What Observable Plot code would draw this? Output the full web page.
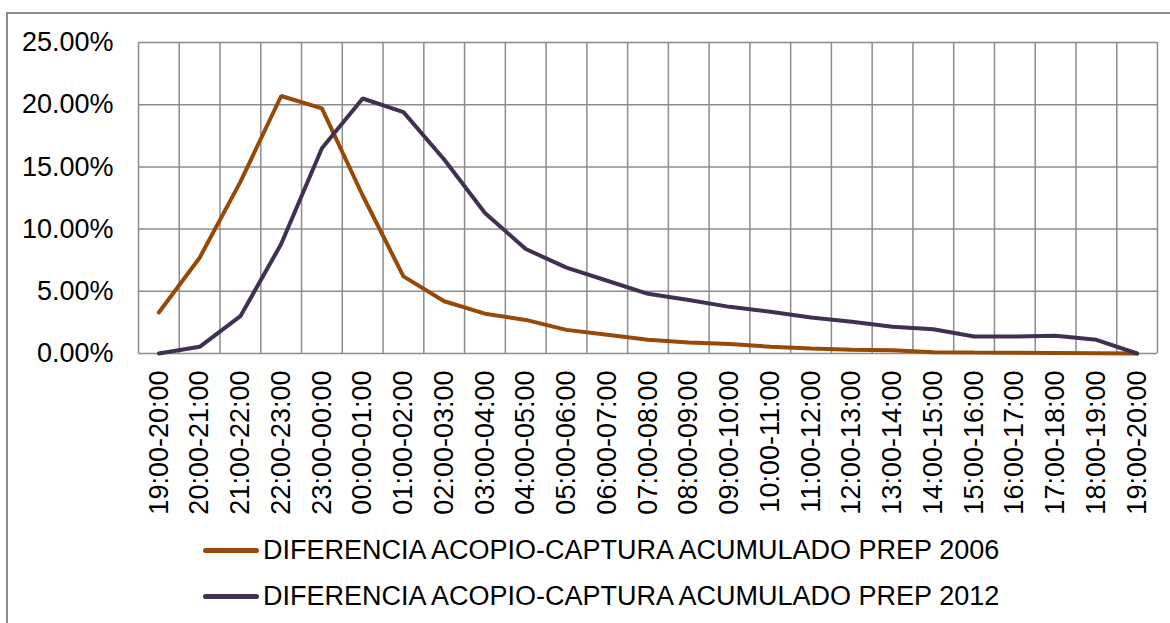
<!DOCTYPE html>
<html>
<head>
<meta charset="utf-8">
<script src="https://cdn.jsdelivr.net/npm/d3@7"></script>
<script src="https://cdn.jsdelivr.net/npm/@observablehq/plot@0.6"></script>
<style>
  html, body { margin: 0; padding: 0; background: #fff; }
  body { width: 1170px; height: 623px; position: relative; overflow: hidden; font-family: "Liberation Sans", Arial, sans-serif; }
  #frame { position: absolute; left: 6px; top: 12px; width: 1300px; height: 700px; border-left: 2px solid #8c8c8c; border-top: 2px solid #8c8c8c; box-sizing: border-box; }
  #chart { position: absolute; left: 0; top: 0; }
  .leg { position: absolute; left: 203px; display: flex; align-items: center; font-size: 27px; color: #000; white-space: nowrap; }
  .sw { width: 56px; height: 5px; border-radius: 3px; margin-right: 4px; }
</style>
</head>
<body>
<div id="frame"></div>
<div id="chart"></div>
<div class="leg" id="leg1" style="top:535px"></div>
<div class="leg" id="leg2" style="top:581px"></div>
<script>
const labels = ["19:00-20:00","20:00-21:00","21:00-22:00","22:00-23:00","23:00-00:00","00:00-01:00","01:00-02:00","02:00-03:00","03:00-04:00","04:00-05:00","05:00-06:00","06:00-07:00","07:00-08:00","08:00-09:00","09:00-10:00","10:00-11:00","11:00-12:00","12:00-13:00","13:00-14:00","14:00-15:00","15:00-16:00","16:00-17:00","17:00-18:00","18:00-19:00","19:00-20:00"];
const prep2006 = [3.3, 7.7, 13.8, 20.7, 19.7, 12.7, 6.2, 4.2, 3.2, 2.7, 1.9, 1.5, 1.1, 0.88, 0.76, 0.54, 0.40, 0.30, 0.27, 0.11, 0.08, 0.06, 0.04, 0.02, 0.0];
const prep2012 = [0.0, 0.54, 3.0, 8.8, 16.5, 20.5, 19.4, 15.6, 11.3, 8.4, 6.9, 5.85, 4.8, 4.3, 3.75, 3.35, 2.9, 2.55, 2.15, 1.95, 1.37, 1.37, 1.42, 1.1, 0.0];
const yTicks = [0, 0.05, 0.10, 0.15, 0.20, 0.25];
const seriesNames = ["DIFERENCIA ACOPIO-CAPTURA ACUMULADO PREP 2006", "DIFERENCIA ACOPIO-CAPTURA ACUMULADO PREP 2012"];
const colors = ["#984807", "#403152"];

const data = [];
labels.forEach((l, i) => {
  data.push({i, label: l, v: prep2006[i] / 100, s: seriesNames[0]});
});
labels.forEach((l, i) => {
  data.push({i, label: l, v: prep2012[i] / 100, s: seriesNames[1]});
});
const idx = labels.map((d, i) => i);
const bounds = labels.map((d, i) => i - 0.5).concat([labels.length - 0.5]);

const gridColor = "#8c8c8c";
const chart = Plot.plot({
  width: 1170,
  height: 530,
  marginLeft: 138,
  marginRight: 13,
  marginTop: 42,
  marginBottom: 177,
  style: { fontFamily: "'Liberation Sans', Arial, sans-serif", fontSize: "27px", color: "#000", background: "transparent" },
  x: { type: "linear", domain: [-0.5, labels.length - 0.5] },
  y: { domain: [0, 0.25] },
  marks: [
    Plot.ruleY(yTicks, { stroke: gridColor, strokeWidth: 1.5 }),
    Plot.ruleX(bounds, { stroke: gridColor, strokeWidth: 1.5 }),
    Plot.axisY({ ticks: yTicks, tickFormat: d3.format(".2%"), tickSize: 0, tickPadding: 25, fontSize: 27, label: null }),
    Plot.axisX({ ticks: idx, tickFormat: (d) => labels[d], tickSize: 0, tickPadding: 17, tickRotate: -90, fontSize: 27, label: null }),
    Plot.line(data, { x: "i", y: "v", z: "s", stroke: "s", strokeWidth: 4, strokeLinejoin: "miter", strokeLinecap: "round" })
  ],
  color: { domain: seriesNames, range: colors }
});
document.getElementById("chart").appendChild(chart);

[["leg1", 0], ["leg2", 1]].forEach(([id, k]) => {
  const el = document.getElementById(id);
  const sw = document.createElement("span");
  sw.className = "sw";
  sw.style.background = colors[k];
  const tx = document.createElement("span");
  tx.textContent = seriesNames[k];
  el.appendChild(sw);
  el.appendChild(tx);
});
</script>
</body>
</html>
